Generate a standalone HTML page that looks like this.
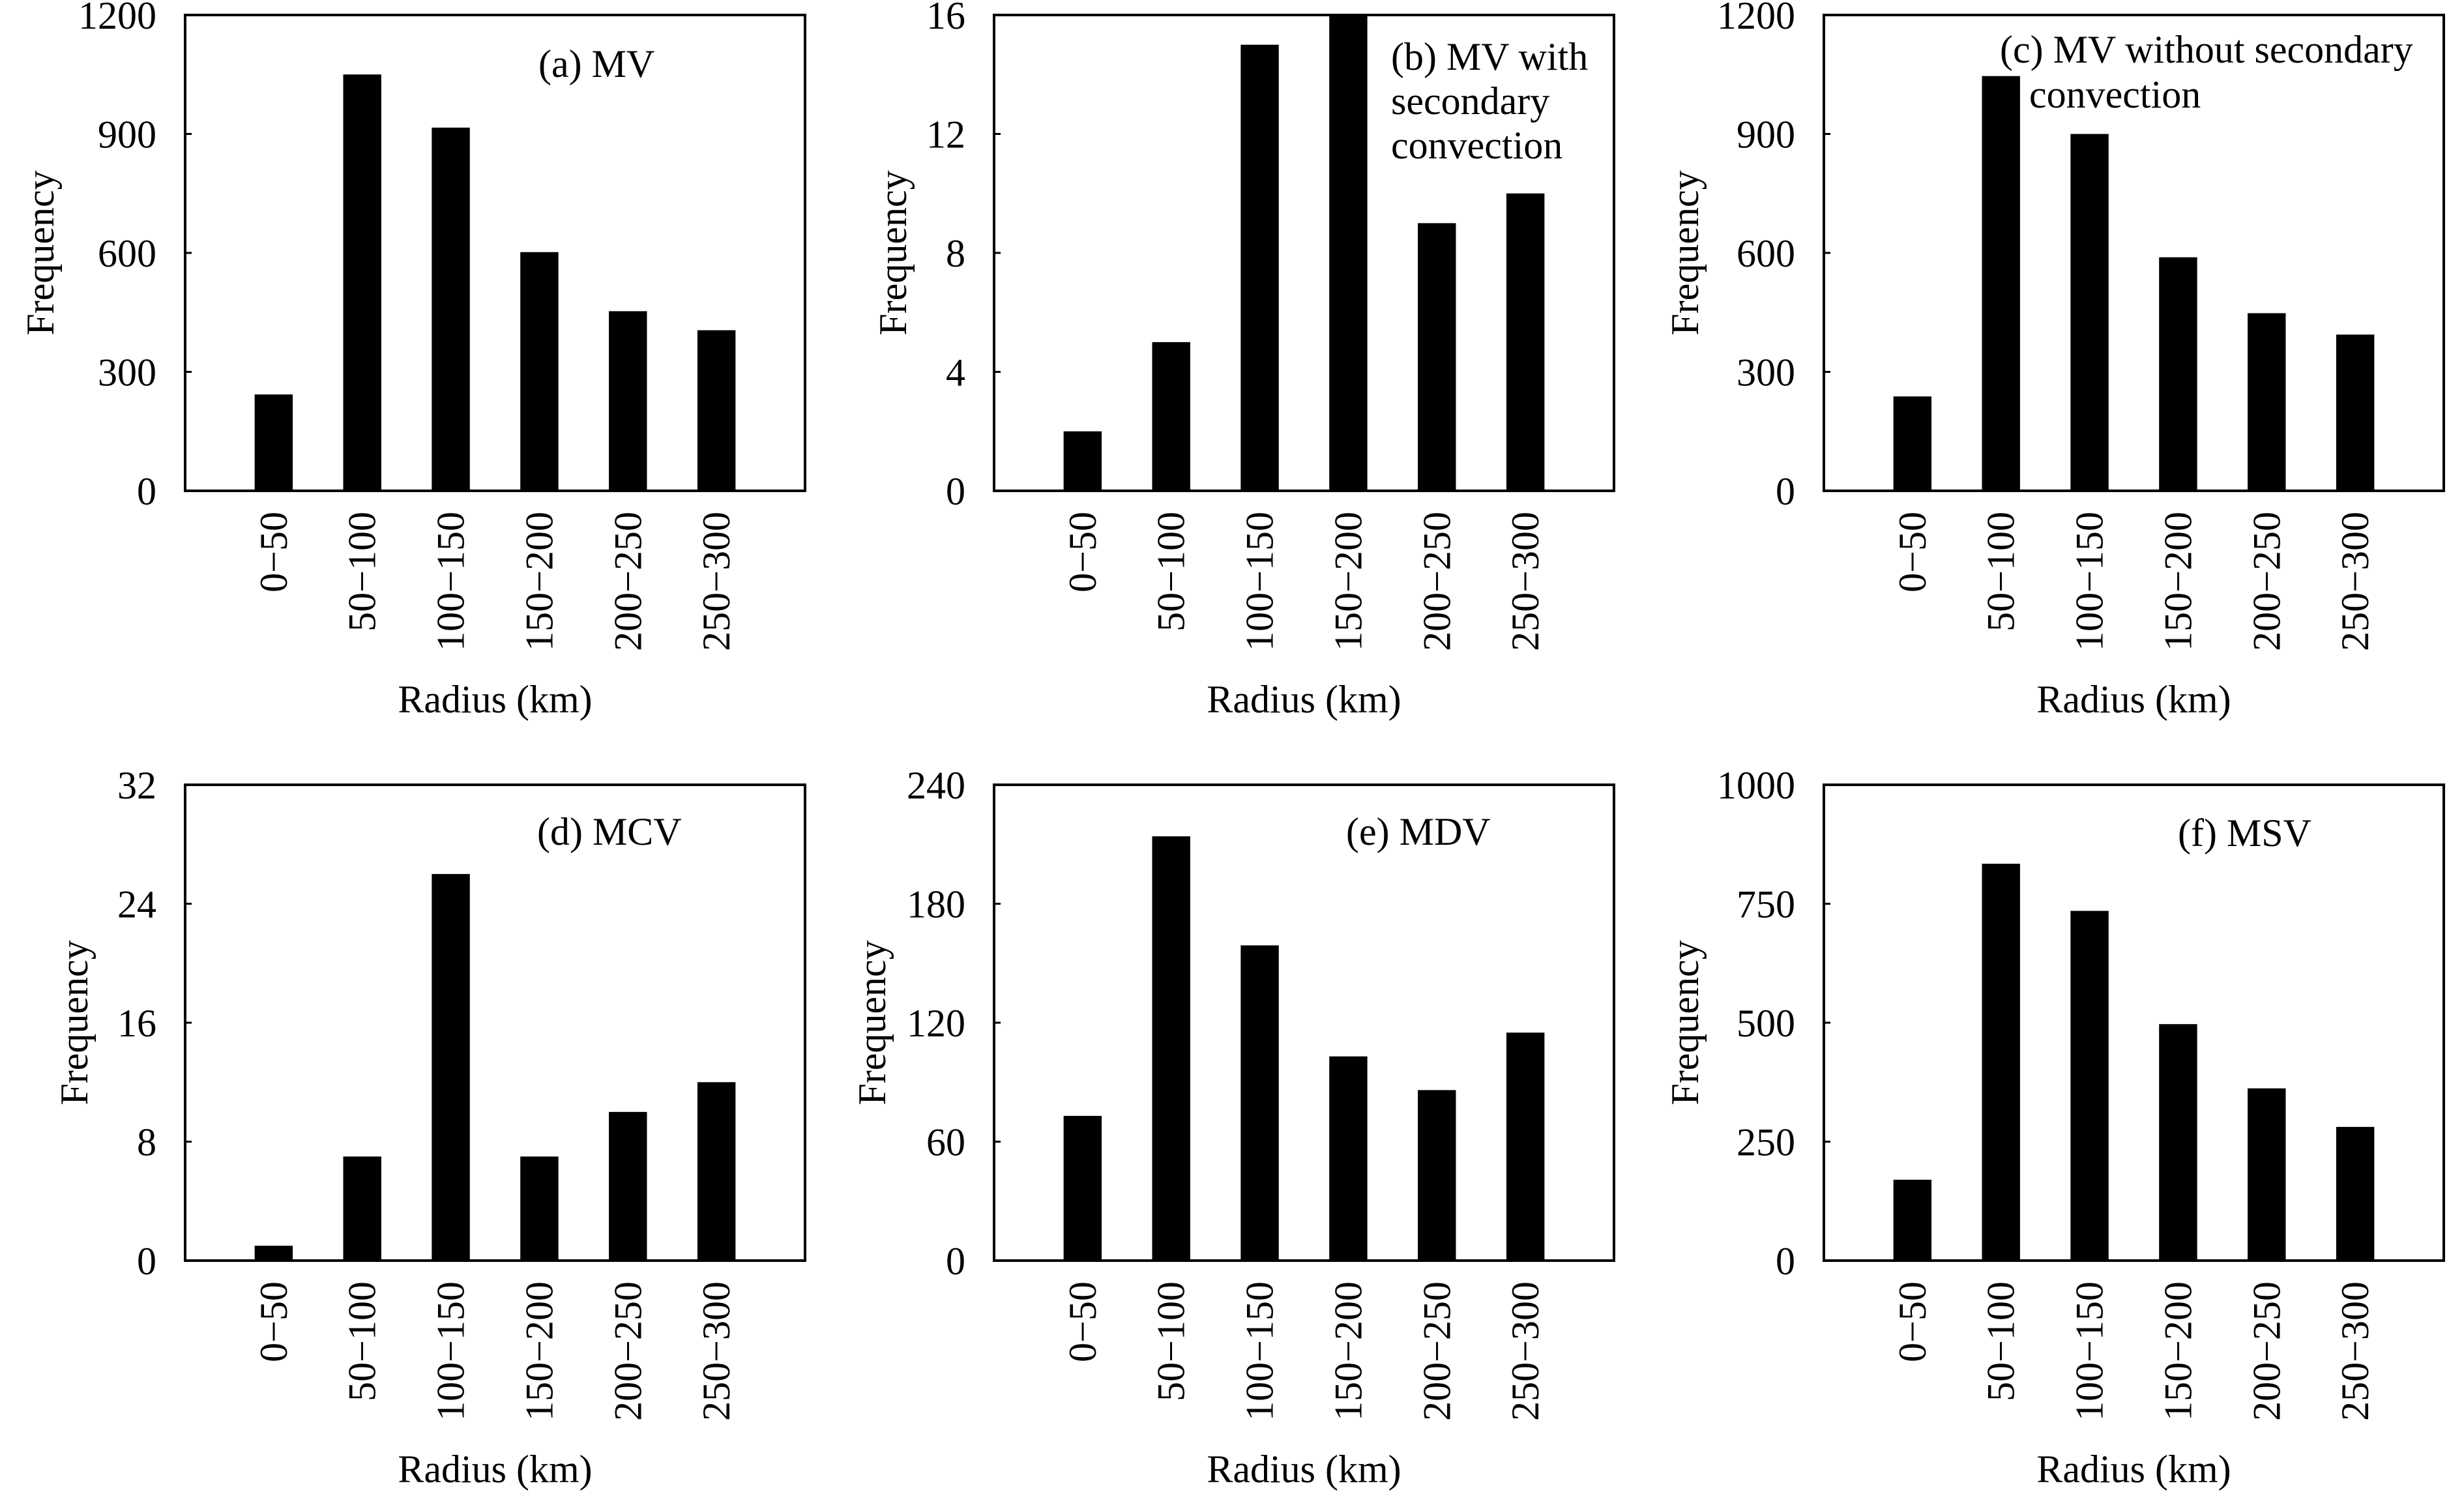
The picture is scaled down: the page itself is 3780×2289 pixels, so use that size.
<!DOCTYPE html>
<html><head><meta charset="utf-8"><style>
html,body{margin:0;padding:0;background:#fff;}
svg{display:block;}
text{font-family:"Liberation Serif",serif;fill:#000;}
</style></head><body>
<svg id="fig" width="3780" height="2289" viewBox="0 0 3780 2289" xmlns="http://www.w3.org/2000/svg"></svg>
<script>
const categories = ["0\u221250","50\u2212100","100\u2212150","150\u2212200","200\u2212250","250\u2212300"];
const valuesA = [243, 1050, 916, 602, 453, 405];
const valuesB = [2, 5, 15, 16, 9, 10];
const valuesC = [238, 1046, 900, 589, 448, 394];
const valuesD = [1, 7, 26, 7, 10, 12];
const valuesE = [73, 214, 159, 103, 86, 115];
const valuesF = [170, 834, 735, 497, 362, 281];
const ticksA = [0, 300, 600, 900, 1200];
const ticksB = [0, 4, 8, 12, 16];
const ticksC = [0, 300, 600, 900, 1200];
const ticksD = [0, 8, 16, 24, 32];
const ticksE = [0, 60, 120, 180, 240];
const ticksF = [0, 250, 500, 750, 1000];
const titleA = ["(a) MV"];
const titleB = ["(b) MV with", "secondary", "convection"];
const titleC = ["(c) MV without secondary", "convection"];
const titleD = ["(d) MCV"];
const titleE = ["(e) MDV"];
const titleF = ["(f) MSV"];

const NS = "http://www.w3.org/2000/svg";
const svg = document.getElementById('fig');
function mk(tag, attrs, parent) {
  const e = document.createElementNS(NS, tag);
  for (const k in attrs) e.setAttribute(k, attrs[k]);
  (parent || svg).appendChild(e);
  return e;
}
const panels = [
  {id:'a', x:284, y:23, vals:valuesA, ticks:ticksA, title:titleA, tx:[826], ty:[118], fx:62},
  {id:'b', x:1525, y:23, vals:valuesB, ticks:ticksB, title:titleB, tx:[2134,2134,2134], ty:[107,175,243], fx:1370},
  {id:'c', x:2798, y:23, vals:valuesC, ticks:ticksC, title:titleC, tx:[3068,3113], ty:[96,165], fx:2585},
  {id:'d', x:284, y:1204, vals:valuesD, ticks:ticksD, title:titleD, tx:[824], ty:[1296], fx:114},
  {id:'e', x:1525, y:1204, vals:valuesE, ticks:ticksE, title:titleE, tx:[2065], ty:[1296], fx:1338},
  {id:'f', x:2798, y:1204, vals:valuesF, ticks:ticksF, title:titleF, tx:[3341], ty:[1298], fx:2585}
];
const W = 951, H = 730, FS = 60;
panels.forEach(p => {
  const g = mk('g', {});
  
  
  const ymax = p.ticks[p.ticks.length - 1];
  const yS = v => p.y + H - v / ymax * H;
  const step = W / 7;
  const xS = i => p.x + step * (i + 1);
  p.vals.forEach((v, i) => {
    const bw = step * 0.43;
    const r = mk('rect', {x: xS(i) - bw / 2, y: yS(v), width: bw, height: yS(0) - yS(v), fill: '#000'}, g);
    
    
  });
  const fr = mk('rect', {x: p.x, y: p.y, width: W, height: H, fill: 'none', stroke: '#000', 'stroke-width': 4}, g);
  
  
  p.ticks.forEach(t => {
    const l = mk('line', {x1: p.x, x2: p.x + 10, y1: yS(t), y2: yS(t), stroke: '#000', 'stroke-width': 3}, g);
    
    
    const tl = mk('text', {x: p.x - 44, y: yS(t) + 21, 'text-anchor': 'end', 'font-size': FS}, g);
    tl.textContent = t;
    
    
  });
  categories.forEach((c, i) => {
    const cx = xS(i) + 20, cy = p.y + H + 32;
    const tl = mk('text', {x: cx, y: cy, 'text-anchor': 'end', 'font-size': FS, transform: 'rotate(-90 ' + cx + ' ' + cy + ')'}, g);
    tl.textContent = c;
    
    
  });
  const xt = mk('text', {x: p.x + W / 2, y: p.y + H + 340, 'text-anchor': 'middle', 'font-size': FS}, g);
  xt.textContent = 'Radius (km)';
  
  
  const fy = p.y + 365, fxx = p.fx + 20;
  const yt = mk('text', {x: fxx, y: fy, 'text-anchor': 'middle', 'font-size': FS, transform: 'rotate(-90 ' + fxx + ' ' + fy + ')'}, g);
  yt.textContent = 'Frequency';
  
  
  p.title.forEach((s, k) => {
    const tt = mk('text', {x: p.tx[k], y: p.ty[k], 'font-size': FS}, g);
    tt.textContent = s;
    
    
  });
});
</script>
</body></html>
